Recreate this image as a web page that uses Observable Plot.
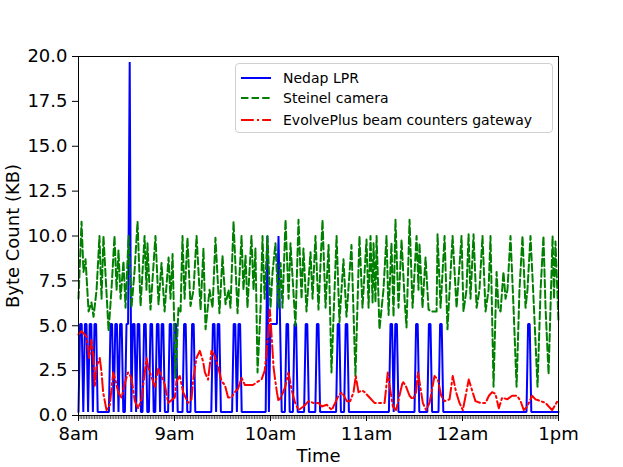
<!DOCTYPE html>
<html><head><meta charset="utf-8">
<script src="https://cdn.jsdelivr.net/npm/d3@7"></script>
<script src="https://cdn.jsdelivr.net/npm/@observablehq/plot@0.6"></script>
<style>
body{margin:0;background:#fff;}
#wrap{position:relative;width:623px;height:467px;font-family:"DejaVu Sans",sans-serif;}
#legend{position:absolute;left:235px;top:63px;width:318px;height:70px;border:1px solid #d0d0d0;border-radius:4px;background:rgba(255,255,255,0.8);box-sizing:border-box;}
.row{position:absolute;left:0;height:20px;width:100%;font-size:14px;color:#000;font-family:"DejaVu Sans",sans-serif;}
.row svg{position:absolute;left:4px;top:0;}
.row span{position:absolute;left:47px;top:1px;line-height:18px;white-space:nowrap;}
</style></head><body><div id="wrap"></div>
<script>
const xTickMinutes = [0, 60, 120, 180, 240, 300];
const xTickLabels = ["8am", "9am", "10am", "11am", "12am", "1pm"];
const yTicks = [0, 2.5, 5, 7.5, 10, 12.5, 15, 17.5, 20];
const seriesNames = ["Nedap LPR", "Steinel camera", "EvolvePlus beam counters gateway"];
const seriesColors = ["#0000ff", "#008000", "#ff0000"];
const seriesDash = ["none", "7.4,3.2", "12.8,3.2,2,3.2"];

// Nedap LPR: baseline level and the minutes (after 8am) where it rises
const nedapBaseline = 0.2;
const nedapHighMinutes = [1,2,4,5,7,8,10,11,20,21,23,24,26,27,30,31,32,34,35,37,38,41,42,45,46,49,50,52,53,57,58,60,61,66,67,71,72,84,85,87,88,97,98,100,101,118,120,121,122,123,124,125,126,130,131,135,136,142,143,149,150,162,163,167,168,195,196,198,199,211,212,219,220,226,227,281,282];
const nedapHighValues  = [5.1,5.1,5.1,5.1,5.1,5.1,5.1,5.1,5.1,5.1,5.1,5.1,5.1,5.1,5.1,5.1,19.7,5.1,5.1,5.1,5.1,5.1,5.1,5.1,5.1,5.1,5.1,5.1,5.1,5.1,5.1,5.1,5.1,5.1,5.1,5.1,5.1,5.1,5.1,5.1,5.1,5.1,5.1,5.1,5.1,10.0,5.1,5.1,5.1,5.1,5.1,10.0,5.1,5.1,5.1,5.1,5.1,5.1,5.1,5.1,5.1,5.1,5.1,5.1,5.1,5.1,5.1,5.1,5.1,5.1,5.1,5.1,5.1,5.1,5.1,5.1,5.1];

// Steinel camera
const steinelMinutes = [0,1.9,3.1,4.4,6.3,8.1,9.4,11.3,13.1,14.4,15.6,18.8,20.6,22.5,23.8,25,26.3,28.1,29.4,31.3,33.1,35,36.9,38.8,41.3,42.5,43.1,45,48.1,50,51.9,53.8,56.3,57.5,58.8,60.6,62.5,63.8,65,66.3,68.1,70,71.9,73.8,76.3,78.1,79.4,81.9,83.8,85.6,88.1,90,91.9,93.8,95,96.9,99.4,101.9,103.1,104.4,105.6,108.1,109.4,110.6,111.9,113.8,115,116.3,118.1,120,121.3,123.1,125,126.3,127.5,129.4,131.3,132.5,135.6,137.5,139.4,140.6,142.5,145,146.3,148.1,150,152.5,154.4,156.3,158.1,161.3,163.1,165.6,167.5,170.6,173.1,175.6,177.5,180,181.3,182.5,183.8,184.4,185.6,186.3,188.1,190.6,192.5,193.8,195.6,196.9,198.1,200,201.9,203.8,205,206.9,208.8,211.3,212.5,213.1,215,216.9,218.8,220.6,223.8,224.4,226.3,228.8,230.6,233.8,236.3,239.4,240.6,242.5,243.8,245,246.9,248.8,250.6,252.5,254.4,256.3,257.5,259.4,261.3,262.5,263.8,265.6,266.9,268.1,270,271.9,273.8,275.6,277.5,279.4,280.6,282.5,284.4,286.9,288.8,290.6,291.9,293.8,295,296.3,297.2,298.1,300];
const steinelValues  = [6.5,10.8,8.0,8.7,5.8,6.3,5.5,7.0,10.0,6.5,10.0,4.7,7.0,10.0,7.0,9.2,6.5,8.6,6.0,10.0,6.0,8.0,10.8,6.1,10.0,7.0,9.6,5.9,10.0,6.2,8.5,5.8,8.8,6.5,9.0,2.1,6.0,5.8,10.0,6.5,9.9,6.1,7.0,10.0,5.9,9.3,4.8,7.0,6.0,9.9,5.7,8.9,6.2,7.0,6.0,10.8,5.7,10.0,7.0,8.9,6.0,10.0,7.0,9.3,2.4,6.0,10.0,6.5,10.0,6.0,8.0,9.6,6.0,8.5,6.0,10.9,6.5,9.6,5.0,10.9,6.5,9.3,5.8,9.1,6.5,10.0,5.9,10.9,6.0,9.5,2.4,10.0,5.2,8.7,5.5,9.5,2.2,10.0,6.0,9.8,6.0,10.0,6.3,9.6,6.3,10.0,4.8,7.0,10.0,5.6,9.6,5.5,10.9,6.0,9.8,6.5,4.9,10.9,6.0,10.0,7.0,9.6,6.0,8.8,5.9,5.8,5.8,10.1,6.0,10.0,4.8,10.0,6.0,10.0,5.8,7.0,10.1,6.5,10.1,6.0,7.0,10.0,5.8,7.0,10.0,1.6,8.0,6.0,5.8,8.0,6.5,7.0,10.0,6.0,1.6,7.0,10.0,6.0,7.0,10.0,6.5,1.6,7.0,10.0,6.0,2.3,6.0,10.0,6.5,9.7,5.2];

// EvolvePlus beam counters gateway
const evolveMinutes = [0,1.9,5,6.7,8.1,9.2,10.2,11.2,13.3,14.4,15.4,17.5,19.6,21.7,23.3,24.8,26.9,29.6,31,33.1,35.2,37.3,39.4,42.5,43.5,47.7,49.8,51.9,54,56,60.2,61.2,63.3,65.4,68.5,70.6,71.7,73.7,75.8,77.9,79,81,83.1,85.2,87.3,89.4,91.5,93.5,95.6,97.7,99.8,101.9,104,109,112.3,114.4,116.4,118.5,119.6,120.8,121.9,122.9,124,125,127,129.2,131.2,133.3,135.4,137.5,140.6,143.8,146.9,150,152,155.2,158.3,160.4,162.5,164.6,167.7,169.8,171.9,173.3,175,177.1,178.8,181.9,185,191.3,193.3,194.4,196.5,198.5,200.6,202.7,204.8,206.9,209,211,212.1,213.1,215.2,217.3,219.4,222.5,224.6,226.7,228.8,231.9,233.9,236,238.1,240.2,243.9,246,248.1,251.3,254.4,256.5,258.5,260.6,262.7,264.8,267.9,271,274.2,276.3,278.3,280.4,283.5,285.6,288.8,291.9,293.9,296,298.1,300];
const evolveValues  = [4.5,4.7,4.4,3.2,4.2,3.4,1.6,2.7,3.2,2.4,1.3,0.3,0.6,2.4,1.9,1.3,1.0,2.0,2.4,2.1,0.8,0.4,0.9,3.2,2.7,1.6,2.6,2.2,1.7,0.7,1.0,1.9,2.2,1.3,0.7,0.9,2.0,3.2,3.6,3.0,2.4,2.0,3.6,3.3,2.7,1.9,1.7,1.0,1.0,1.3,1.5,2.1,1.7,1.7,1.9,2.0,2.5,4.5,5.9,4.3,2.7,2.0,1.3,0.8,1.1,1.6,2.4,1.4,0.7,0.3,0.5,0.8,0.7,0.7,0.5,0.6,0.3,0.7,1.1,1.3,0.8,0.8,1.3,2.2,1.3,1.4,1.3,1.0,0.7,0.7,2.4,1.7,0.5,0.3,1.1,1.9,1.6,1.1,0.9,1.3,2.4,1.9,0.7,0.3,0.7,2.2,2.0,1.1,0.8,0.9,2.2,1.3,0.7,0.3,2.0,1.4,0.8,0.7,0.7,1.1,1.3,1.2,0.4,1.0,0.9,1.1,1.1,0.8,0.3,0.5,1.1,0.9,0.8,0.7,0.5,0.3,0.6,0.9];

// build tables
const nedapMap = new Map(nedapHighMinutes.map((m, i) => [m, nedapHighValues[i]]));
const nedap = d3.range(0, 301).map(m => ({t: m, v: nedapMap.has(m) ? nedapMap.get(m) : nedapBaseline}));
const steinel = steinelMinutes.map((t, i) => ({t, v: steinelValues[i]}));
const evolve = evolveMinutes.map((t, i) => ({t, v: evolveValues[i]}));

const font = "DejaVu Sans";
const chart = Plot.plot({
  width: 623,
  height: 467,
  marginLeft: 78,
  marginRight: 65,
  marginTop: 56,
  marginBottom: 52,
  style: {fontFamily: font, fontSize: "18px", background: "white", color: "black", overflow: "visible"},
  x: {domain: [0, 300]},
  y: {domain: [0, 20]},
  marks: [
    Plot.line(nedap, {x: "t", y: "v", stroke: seriesColors[0], strokeWidth: 2, strokeLinejoin: "miter"}),
    Plot.line(steinel, {x: "t", y: "v", stroke: seriesColors[1], strokeWidth: 2, strokeDasharray: seriesDash[1]}),
    Plot.line(evolve, {x: "t", y: "v", stroke: seriesColors[2], strokeWidth: 2, strokeDasharray: seriesDash[2]}),
    Plot.frame({stroke: "black", strokeWidth: 1}),
    Plot.axisX(d3.range(0, 301), {tickSize: 4, tickFormat: () => "", label: null, strokeWidth: 0.7, strokeOpacity: 0.9}),
    Plot.axisX(xTickMinutes, {tickSize: 6, tickPadding: 6, tickFormat: d => xTickLabels[xTickMinutes.indexOf(d)], label: null, fontSize: 18, strokeWidth: 1}),
    Plot.axisY(yTicks, {tickSize: 6, tickPadding: 5, tickFormat: d3.format(".1f"), label: null, fontSize: 18, strokeWidth: 1}),
    Plot.text(["Byte Count (KB)"], {frameAnchor: "left", dx: -65, rotate: -90, text: d => d, fontSize: 18, textAnchor: "middle", lineAnchor: "middle"}),
    Plot.text(["Time"], {frameAnchor: "bottom", dy: 41, text: d => d, fontSize: 18, textAnchor: "middle", lineAnchor: "middle"})
  ]
});

const wrap = document.getElementById("wrap");
wrap.appendChild(chart);

const legend = document.createElement("div");
legend.id = "legend";
const rowTops = [4, 24, 46];
seriesNames.forEach((name, i) => {
  const row = document.createElement("div");
  row.className = "row";
  row.style.top = rowTops[i] + "px";
  row.innerHTML = `<svg width="32" height="20"><line x1="1" y1="10" x2="31" y2="10" stroke="${seriesColors[i]}" stroke-width="2" ${seriesDash[i] !== "none" ? `stroke-dasharray="${seriesDash[i]}"` : ""}/></svg><span>${name}</span>`;
  legend.appendChild(row);
});
wrap.appendChild(legend);
</script>
</body></html>
